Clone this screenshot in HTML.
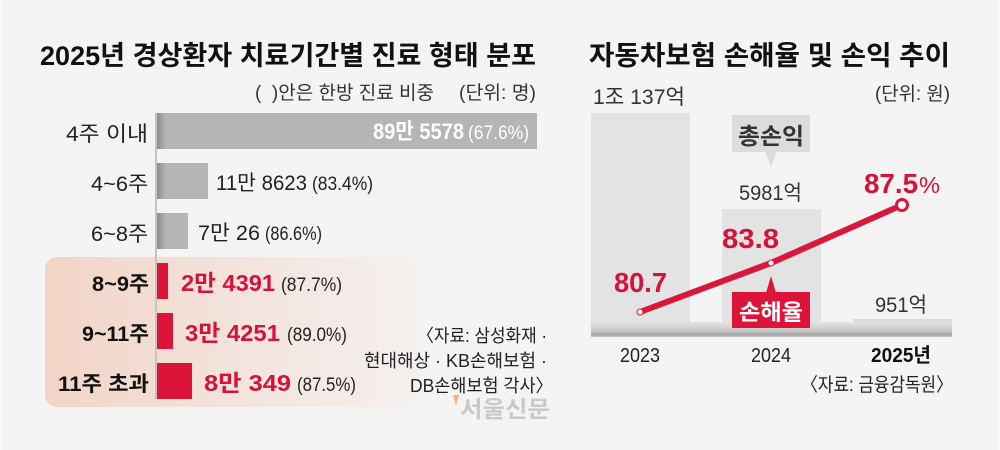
<!DOCTYPE html>
<html><head><meta charset="utf-8">
<style>
html,body{margin:0;padding:0;background:#f4f4f4;}
svg{display:block;}
text{font-family:"Liberation Sans","Noto Sans CJK KR",sans-serif;}
</style></head>
<body>
<svg width="1000" height="450" viewBox="0 0 1000 450" xmlns="http://www.w3.org/2000/svg">
<defs>
<linearGradient id="hl" x1="0" y1="0" x2="1" y2="0">
<stop offset="0" stop-color="#f1d4c5"/>
<stop offset="0.35" stop-color="#f3dfd6"/>
<stop offset="1" stop-color="#f4f1f0"/>
</linearGradient>
<linearGradient id="sh" x1="0" y1="0" x2="1" y2="0">
<stop offset="0" stop-color="#000" stop-opacity="0.22"/>
<stop offset="1" stop-color="#000" stop-opacity="0"/>
</linearGradient>
<linearGradient id="base" x1="0" y1="0" x2="0" y2="1">
<stop offset="0" stop-color="#e4e4e4"/>
<stop offset="0.6" stop-color="#c6c6c6"/>
<stop offset="0.85" stop-color="#a4a4a4"/>
<stop offset="1" stop-color="#cccccc"/>
</linearGradient>
</defs>
<rect x="0" y="0" width="1000" height="450" fill="#f4f4f4"/>
<rect x="0" y="0" width="3" height="450" fill="#fafafa"/>
<rect x="997" y="0" width="3" height="450" fill="#fafafa"/>

<!-- LEFT CHART -->
<text x="40" y="65" font-size="27" font-weight="700" fill="#111" textLength="496" lengthAdjust="spacingAndGlyphs">2025년 경상환자 치료기간별 진료 형태 분포</text>
<text x="255" y="99" font-size="19" fill="#333" textLength="179" lengthAdjust="spacingAndGlyphs">(&#160;&#160;)안은 한방 진료 비중</text>
<text x="459" y="99" font-size="19" fill="#333" textLength="77" lengthAdjust="spacingAndGlyphs">(단위: 명)</text>

<!-- highlight box -->
<path d="M57,257 H422 V407 H57 A12,12 0 0 1 45,395 V269 A12,12 0 0 1 57,257 Z" fill="url(#hl)"/>

<!-- axis line -->
<rect x="155" y="113" width="2" height="286" fill="#c4c4c4"/>

<!-- bars -->
<rect x="157" y="113" width="380" height="36" fill="#b5b5b5"/>
<rect x="157" y="163" width="51" height="36" fill="#b5b5b5"/>
<rect x="157" y="213" width="31" height="36" fill="#b5b5b5"/>
<rect x="157" y="263" width="11" height="36" fill="#dc1439"/>
<rect x="157" y="313" width="16" height="36" fill="#dc1439"/>
<rect x="157" y="363" width="35" height="36" fill="#dc1439"/>
<rect x="157" y="113" width="9" height="36" fill="url(#sh)"/>
<rect x="157" y="163" width="9" height="36" fill="url(#sh)"/>
<rect x="157" y="213" width="9" height="36" fill="url(#sh)"/>

<!-- category labels -->
<text x="66" y="141" font-size="21" fill="#222" textLength="82" lengthAdjust="spacingAndGlyphs">4주 이내</text>
<text x="91" y="191" font-size="21" fill="#222" textLength="57" lengthAdjust="spacingAndGlyphs">4~6주</text>
<text x="91" y="241" font-size="21" fill="#222" textLength="57" lengthAdjust="spacingAndGlyphs">6~8주</text>
<text x="92" y="291" font-size="21" font-weight="700" fill="#111" textLength="57" lengthAdjust="spacingAndGlyphs">8~9주</text>
<text x="82" y="341" font-size="21" font-weight="700" fill="#111" textLength="67" lengthAdjust="spacingAndGlyphs">9~11주</text>
<text x="58" y="391" font-size="21" font-weight="700" fill="#111" textLength="91" lengthAdjust="spacingAndGlyphs">11주 초과</text>

<!-- values -->
<text x="373" y="139" font-size="22" font-weight="700" fill="#fff" textLength="91" lengthAdjust="spacingAndGlyphs">89만 5578</text>
<text x="468" y="139" font-size="19" fill="#fff" textLength="61" lengthAdjust="spacingAndGlyphs">(67.6%)</text>
<text x="216" y="190" font-size="21" fill="#222" textLength="91" lengthAdjust="spacingAndGlyphs">11만 8623</text>
<text x="312" y="190" font-size="19" fill="#222" textLength="61" lengthAdjust="spacingAndGlyphs">(83.4%)</text>
<text x="198" y="240" font-size="21" fill="#222" textLength="62" lengthAdjust="spacingAndGlyphs">7만 26</text>
<text x="265" y="240" font-size="19" fill="#222" textLength="57" lengthAdjust="spacingAndGlyphs">(86.6%)</text>
<text x="181" y="291" font-size="23" font-weight="700" fill="#d6123a" textLength="94" lengthAdjust="spacingAndGlyphs">2만 4391</text>
<text x="281" y="291" font-size="19" fill="#222" textLength="61" lengthAdjust="spacingAndGlyphs">(87.7%)</text>
<text x="185" y="341" font-size="23" font-weight="700" fill="#d6123a" textLength="95" lengthAdjust="spacingAndGlyphs">3만 4251</text>
<text x="287" y="341" font-size="19" fill="#222" textLength="60" lengthAdjust="spacingAndGlyphs">(89.0%)</text>
<text x="204" y="391" font-size="23" font-weight="700" fill="#d6123a" textLength="87" lengthAdjust="spacingAndGlyphs">8만 349</text>
<text x="297" y="391" font-size="19" fill="#222" textLength="59" lengthAdjust="spacingAndGlyphs">(87.5%)</text>

<!-- source -->
<text x="417" y="342" font-size="18" fill="#222" textLength="130" lengthAdjust="spacingAndGlyphs">〈자료: 삼성화재 ·</text>
<text x="364" y="367" font-size="18" fill="#222" textLength="183" lengthAdjust="spacingAndGlyphs">현대해상 · KB손해보험 ·</text>
<text x="410" y="392" font-size="18" fill="#222" textLength="143" lengthAdjust="spacingAndGlyphs">DB손해보험 각사〉</text>
<path d="M453,395 L459,395 L456,406 Z" fill="#f0b48c"/>
<text x="460" y="417" font-size="23" font-weight="700" fill="#c9c9c9" textLength="90" lengthAdjust="spacingAndGlyphs">서울신문</text>

<!-- RIGHT CHART -->
<text x="589" y="65" font-size="27" font-weight="700" fill="#111" textLength="361" lengthAdjust="spacingAndGlyphs">자동차보험 손해율 및 손익 추이</text>
<text x="593" y="104" font-size="21" fill="#333" textLength="92" lengthAdjust="spacingAndGlyphs">1조 137억</text>
<text x="875" y="100" font-size="19" fill="#333" textLength="75" lengthAdjust="spacingAndGlyphs">(단위: 원)</text>

<rect x="591" y="113" width="99" height="214" fill="#e3e3e3"/>
<rect x="722" y="209" width="99" height="118" fill="#e3e3e3"/>
<rect x="853" y="319" width="99" height="8" fill="#dcdcdc"/>
<rect x="591" y="322" width="361" height="15" fill="url(#base)"/>

<!-- callout 총손익 -->
<rect x="732" y="115" width="78" height="37" fill="#dcdcdc"/>
<path d="M765,151 L777,151 L771,167 Z" fill="#dcdcdc"/>
<text x="771" y="144" font-size="23" font-weight="700" fill="#333" text-anchor="middle" textLength="66" lengthAdjust="spacingAndGlyphs">총손익</text>

<text x="739" y="200" font-size="21" fill="#333" textLength="63" lengthAdjust="spacingAndGlyphs">5981억</text>
<text x="875" y="312" font-size="21" fill="#333" textLength="52" lengthAdjust="spacingAndGlyphs">951억</text>

<!-- line -->
<polyline points="640,312 771,263 902,205" fill="none" stroke="#d9173a" stroke-width="6" stroke-linecap="round" stroke-linejoin="round"/>
<circle cx="640" cy="312" r="3" fill="#fff" stroke="#d9173a" stroke-width="1"/>
<circle cx="771" cy="263" r="3" fill="#fff" stroke="#d9173a" stroke-width="1"/>
<circle cx="902" cy="205" r="5.5" fill="#fff" stroke="#d9173a" stroke-width="3"/>

<text x="614" y="292" font-size="28" font-weight="700" fill="#d6123a" textLength="53" lengthAdjust="spacingAndGlyphs">80.7</text>
<text x="722" y="248" font-size="28" font-weight="700" fill="#d6123a" textLength="57" lengthAdjust="spacingAndGlyphs">83.8</text>
<text x="864" y="193" font-size="28" font-weight="700" fill="#d6123a" textLength="54" lengthAdjust="spacingAndGlyphs">87.5</text>
<text x="919" y="193" font-size="23" fill="#d6123a" textLength="21" lengthAdjust="spacingAndGlyphs">%</text>

<!-- 손해율 label -->
<path d="M766,293 L776,293 L771,276 Z" fill="#dc1439"/>
<rect x="732" y="292" width="78" height="36" fill="#dc1439"/>
<text x="771" y="320" font-size="22" font-weight="700" fill="#fff" text-anchor="middle" textLength="64" lengthAdjust="spacingAndGlyphs">손해율</text>

<!-- x labels -->
<text x="620" y="362" font-size="20" fill="#222" textLength="40" lengthAdjust="spacingAndGlyphs">2023</text>
<text x="751" y="362" font-size="20" fill="#222" textLength="40" lengthAdjust="spacingAndGlyphs">2024</text>
<text x="871" y="362" font-size="20" font-weight="700" fill="#111" textLength="60" lengthAdjust="spacingAndGlyphs">2025년</text>
<text x="801" y="391" font-size="19" fill="#222" textLength="152" lengthAdjust="spacingAndGlyphs">〈자료: 금융감독원〉</text>
</svg>
</body></html>
